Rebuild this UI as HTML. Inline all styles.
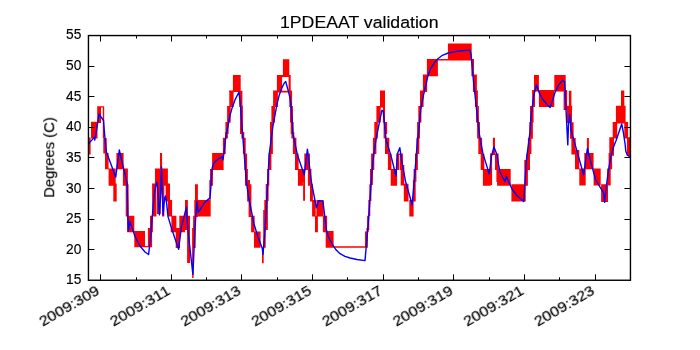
<!DOCTYPE html>
<html><head><meta charset="utf-8"><style>
html,body{margin:0;padding:0;background:#fff;width:700px;height:350px;overflow:hidden}
svg{display:block;font-family:"Liberation Sans",sans-serif}
text{will-change:transform;stroke:#000;stroke-width:0.15px}
</style></head><body>
<svg width="700" height="350" viewBox="0 0 700 350">
<rect x="0" y="0" width="700" height="350" fill="#fff"/>
<defs><clipPath id="c"><rect x="88.0" y="35.0" width="542.0" height="245.0"/></clipPath></defs>
<g clip-path="url(#c)">
<path fill="#ff0000" d="M88.0 137.4H90.6V154.6H88.0ZM91.0 121.8H97.5V138.6H91.0ZM97.2 106.2H101.0V123.0H97.2ZM97.2 106.2H104.2V107.6H97.2ZM102.8 106.2H104.2V138.0H102.8ZM103.3 137.9H106.7V153.6H103.3ZM105.0 153.0H108.6V169.3H105.0ZM108.6 168.6H115.7V185.7H108.6ZM113.3 183.6H116.7V201.4H113.3ZM116.4 152.9H123.6V169.3H116.4ZM122.9 168.6H127.9V185.7H122.9ZM125.7 184.3H128.6V216.4H125.7ZM127.1 215.7H134.3V232.3H127.1ZM134.3 230.9H145.0V247.3H134.3ZM145.0 246.0H152.1V247.3H145.0ZM147.9 228.0H152.1V247.3H147.9ZM150.0 215.7H152.9V232.3H150.0ZM152.1 183.6H156.4V216.4H152.1ZM155.0 168.6H167.9V185.7H155.0ZM160.0 152.9H162.1V169.3H160.0ZM157.0 184.0H160.7V214.0H157.0ZM162.1 184.3H164.3V216.4H162.1ZM165.7 183.6H170.0V201.4H165.7ZM167.9 200.0H172.1V216.4H167.9ZM171.4 215.7H176.4V232.3H171.4ZM170.7 228.0H185.0V232.3H170.7ZM175.7 232.3H180.0V248.0H175.7ZM179.3 215.7H185.0V230.0H179.3ZM180.0 215.7H184.3V232.3H180.0ZM185.0 200.0H187.9V230.0H185.0ZM187.1 215.7H190.0V263.0H187.1ZM192.1 228.0H193.6V278.0H192.1ZM193.1 215.7H195.7V248.0H193.1ZM195.0 184.3H197.9V217.0H195.0ZM194.3 200.0H210.7V216.4H194.3ZM209.3 185.7H210.7V200.0H209.3ZM209.3 180.0H212.9V185.7H209.3ZM210.0 169.1H212.9V182.0H210.0ZM212.1 153.1H223.6V169.9H212.1ZM222.9 137.7H225.7V154.1H222.9ZM225.0 132.0H227.9V138.4H225.0ZM225.4 121.9H228.6V134.0H225.4ZM227.1 106.1H230.7V122.6H227.1ZM229.3 90.4H233.6V107.1H229.3ZM232.9 75.0H240.7V91.4H232.9ZM229.0 90.7H242.4V92.1H229.0ZM239.3 90.7H242.4V107.1H239.3ZM240.0 105.7H242.9V134.0H240.0ZM241.4 132.0H244.3V138.4H241.4ZM242.9 137.7H245.7V154.1H242.9ZM244.3 153.4H247.1V169.9H244.3ZM245.0 169.1H247.9V185.7H245.0ZM245.7 180.0H250.0V185.7H245.7ZM247.1 184.3H251.4V201.4H247.1ZM248.6 200.7H251.4V217.0H248.6ZM251.1 215.7H254.6V232.3H251.1ZM254.0 231.4H260.6V247.7H254.0ZM262.0 247.7H263.7V263.2H262.0ZM263.2 210.0H265.7V247.7H263.2ZM264.3 200.0H267.9V230.0H264.3ZM265.7 184.0H268.6V201.0H265.7ZM267.1 169.0H269.3V185.7H267.1ZM268.6 153.4H271.4V169.9H268.6ZM270.0 137.7H272.9V154.0H270.0ZM270.0 121.9H272.9V138.4H270.0ZM271.4 106.0H275.0V122.6H271.4ZM273.1 90.4H277.9V106.9H273.1ZM273.1 90.7H292.1V92.6H273.1ZM276.9 75.0H282.1V91.4H276.9ZM276.9 75.0H290.7V77.1H276.9ZM288.6 75.0H290.7V91.4H288.6ZM282.9 59.3H289.3V75.7H282.9ZM289.3 90.4H292.1V106.9H289.3ZM290.0 106.0H292.9V122.6H290.0ZM290.7 121.9H293.6V134.0H290.7ZM291.4 132.0H294.3V138.4H291.4ZM292.9 137.7H296.4V154.1H292.9ZM295.0 153.4H298.6V169.9H295.0ZM297.9 169.0H302.9V185.7H297.9ZM303.1 180.0H305.0V200.7H303.1ZM304.3 153.4H310.0V169.9H304.3ZM302.0 169.0H305.0V182.0H302.0ZM307.9 169.0H311.4V185.7H307.9ZM310.0 184.3H312.9V201.4H310.0ZM312.1 200.0H315.7V216.4H312.1ZM316.4 200.0H323.6V216.4H316.4ZM315.0 215.7H317.9V232.3H315.0ZM322.9 215.7H327.1V232.3H322.9ZM325.7 231.1H333.6V247.7H325.7ZM333.6 246.3H366.4V247.7H333.6ZM365.0 231.6H367.9V247.7H365.0ZM366.4 228.0H368.6V232.0H366.4ZM367.1 215.7H369.3V230.0H367.1ZM368.3 200.0H370.3V216.0H368.3ZM369.3 184.3H371.4V201.0H369.3ZM370.0 169.0H372.9V185.0H370.0ZM371.1 153.4H374.3V169.9H371.1ZM372.9 137.7H376.4V154.1H372.9ZM374.3 121.9H377.9V138.4H374.3ZM380.0 90.4H385.0V106.9H380.0ZM376.4 106.1H380.7V122.6H376.4ZM376.4 106.1H385.0V107.6H376.4ZM382.9 106.1H385.0V122.6H382.9ZM383.6 121.9H387.1V134.0H383.6ZM383.6 132.0H385.7V138.4H383.6ZM385.0 137.7H389.3V154.1H385.0ZM387.9 153.4H391.4V169.9H387.9ZM390.7 169.0H397.1V185.7H390.7ZM396.4 153.4H399.3V169.9H396.4ZM400.0 153.4H402.9V169.9H400.0ZM396.4 153.4H402.9V155.0H396.4ZM400.7 165.0H404.3V185.4H400.7ZM403.8 183.8H408.5V201.4H403.8ZM409.3 200.0H413.6V216.4H409.3ZM412.9 180.0H415.7V201.4H412.9ZM413.6 169.0H416.4V182.0H413.6ZM415.0 153.4H417.9V169.9H415.0ZM416.4 137.7H419.3V154.1H416.4ZM417.1 121.9H420.0V138.4H417.1ZM418.3 106.1H421.4V122.6H418.3ZM420.0 90.4H423.6V106.9H420.0ZM422.9 74.6H427.1V91.9H422.9ZM426.9 58.9H437.9V76.3H426.9ZM437.1 58.9H473.6V60.6H437.1ZM447.9 43.4H471.7V60.3H447.9ZM471.4 58.9H474.0V76.3H471.4ZM472.9 74.6H476.9V91.9H472.9ZM475.0 90.4H477.9V106.9H475.0ZM476.0 106.1H478.9V122.6H476.0ZM477.1 121.9H480.0V138.4H477.1ZM478.3 137.7H482.1V154.1H478.3ZM480.7 153.4H484.3V169.9H480.7ZM482.9 169.0H489.3V185.7H482.9ZM482.9 180.0H490.7V185.7H482.9ZM490.0 153.4H492.1V185.0H490.0ZM495.0 153.4H497.9V169.9H495.0ZM490.0 153.4H497.9V155.0H490.0ZM492.9 137.7H495.0V154.1H492.9ZM496.4 153.4H498.6V182.0H496.4ZM488.6 169.0H491.4V182.0H488.6ZM497.1 169.0H510.7V185.7H497.1ZM511.4 184.3H525.7V201.4H511.4ZM524.3 160.0H527.9V185.7H524.3ZM525.0 169.0H527.9V182.0H525.0ZM526.4 153.4H530.0V169.9H526.4ZM527.9 137.7H531.4V154.1H527.9ZM529.3 121.9H532.9V138.7H529.3ZM530.0 106.1H533.6V122.6H530.0ZM534.0 75.0H538.9V91.4H534.0ZM532.1 90.0H535.0V107.1H532.1ZM532.1 90.0H554.3V91.6H532.1ZM538.9 90.0H554.3V107.1H538.9ZM554.3 75.0H565.7V91.4H554.3ZM563.6 90.0H567.1V110.0H563.6ZM568.9 90.7H571.4V110.0H568.9ZM565.7 105.7H572.1V110.0H565.7ZM566.9 106.9H572.0V122.9H566.9ZM570.0 122.3H573.6V138.7H570.0ZM571.4 138.0H575.7V154.4H571.4ZM572.9 150.0H579.3V154.3H572.9ZM575.0 153.6H579.3V169.3H575.0ZM579.3 168.6H585.7V185.4H579.3ZM584.3 152.9H593.6V169.3H584.3ZM586.9 138.0H588.9V158.0H586.9ZM593.6 168.6H600.7V185.4H593.6ZM601.1 184.3H608.0V202.0H601.1ZM607.1 168.6H610.7V185.4H607.1ZM608.6 152.9H612.1V169.3H608.6ZM609.3 137.3H613.5V153.8H609.3ZM610.1 137.3H614.0V155.7H610.1ZM612.7 121.9H617.2V138.6H612.7ZM624.3 121.9H628.1V138.6H624.3ZM612.7 121.9H628.1V123.5H612.7ZM615.9 105.8H625.6V123.1H615.9ZM621.0 90.4H624.3V106.4H621.0ZM626.9 137.3H630.0V155.7H626.9Z"/>
<polyline fill="none" stroke="#0000ff" stroke-width="1.4" stroke-linejoin="round" points="88.6,143.6 94.3,137.4 94.8,140.0 96.9,128.0 99.0,114.0 103.5,120.5 104.5,133.0 106.4,152.1 115.7,177.1 119.3,150.0 127.1,183.6 128.3,231.0 129.8,221.5 131.5,226.0 135.0,236.5 140.0,246.0 145.0,252.0 148.6,254.5 150.5,238.0 152.0,220.0 154.3,194.3 156.0,184.5 157.0,182.3 158.0,192.0 158.6,202.9 159.4,214.9 160.1,205.0 160.6,194.3 161.5,166.9 162.3,194.3 163.2,214.9 164.0,204.0 164.8,197.5 165.5,196.0 166.6,202.9 168.0,216.6 172.1,230.0 178.6,249.4 181.4,227.1 186.4,207.1 187.9,230.0 192.9,274.4 195.0,228.0 196.9,201.4 198.3,212.1 205.0,202.1 210.0,197.9 211.4,180.0 212.1,168.5 213.3,164.0 215.3,161.4 218.7,158.7 222.2,157.0 222.9,159.9 223.9,153.6 225.6,138.7 228.2,125.0 229.9,115.9 232.1,107.9 235.0,99.9 237.3,95.3 239.0,92.1 240.7,107.9 241.9,125.0 244.9,163.0 246.4,182.0 248.6,197.1 254.0,224.0 258.0,237.0 262.3,248.6 263.0,254.5 265.2,228.0 267.9,180.0 269.1,155.0 272.9,126.4 275.0,115.0 276.9,104.7 279.1,95.6 282.0,87.6 284.3,83.0 285.7,81.6 287.7,88.7 290.0,97.9 291.5,109.3 292.9,133.3 297.4,155.0 304.3,174.9 307.4,149.1 311.4,182.0 316.4,207.9 318.6,200.7 322.9,201.1 326.4,230.0 328.5,237.0 332.9,245.1 336.0,249.8 340.0,253.7 345.0,256.3 350.0,258.0 357.0,259.5 365.0,260.6 367.9,228.0 371.4,180.0 372.9,161.4 375.9,140.0 379.3,122.9 381.9,110.3 383.3,111.4 385.0,128.6 386.1,140.0 390.9,155.4 396.0,176.0 397.4,153.7 399.8,147.7 402.0,162.3 405.5,181.2 410.6,199.2 412.1,205.0 414.3,180.0 417.5,140.0 418.6,132.0 420.7,109.7 423.5,95.0 425.9,85.0 427.6,77.0 430.4,69.0 433.9,63.3 437.9,58.7 442.4,55.3 448.1,53.0 454.4,51.7 462.0,50.8 469.9,50.1 471.0,54.1 473.9,85.0 478.3,125.0 479.3,134.0 482.9,153.4 489.3,174.1 491.4,156.3 494.0,147.0 497.1,154.9 498.6,165.0 500.0,172.0 503.0,178.0 505.0,181.4 506.4,176.4 508.6,181.4 512.1,189.3 517.1,195.7 522.9,200.7 523.8,201.4 526.4,160.0 530.0,132.0 531.2,115.0 533.8,95.7 536.4,84.8 539.6,93.8 543.4,100.2 547.3,104.7 550.1,107.5 552.4,100.8 555.0,92.5 558.8,84.8 562.7,80.3 564.6,81.6 567.8,144.9 568.5,125.0 569.7,114.3 570.4,120.0 571.0,130.0 576.5,149.4 578.9,158.0 583.6,174.8 587.4,148.5 591.4,164.3 595.7,180.0 603.6,192.9 604.6,202.3 606.5,185.0 608.3,171.6 610.9,156.1 613.5,147.0 616.0,140.7 619.0,132.0 621.7,124.0 623.3,132.0 625.0,143.3 625.8,151.3 627.4,155.2 630.1,157.0"/>
</g>
<rect x="88.45" y="35.55" width="542.00" height="244.70" fill="none" stroke="#000" stroke-width="1.4"/>
<text x="66.00" y="284.40" font-size="14.60" textLength="15.30" lengthAdjust="spacingAndGlyphs">15</text>
<text x="66.00" y="253.78" font-size="14.60" textLength="15.30" lengthAdjust="spacingAndGlyphs">20</text>
<text x="66.00" y="223.15" font-size="14.60" textLength="15.30" lengthAdjust="spacingAndGlyphs">25</text>
<text x="66.00" y="192.53" font-size="14.60" textLength="15.30" lengthAdjust="spacingAndGlyphs">30</text>
<text x="66.00" y="161.90" font-size="14.60" textLength="15.30" lengthAdjust="spacingAndGlyphs">35</text>
<text x="66.00" y="131.28" font-size="14.60" textLength="15.30" lengthAdjust="spacingAndGlyphs">40</text>
<text x="66.00" y="100.65" font-size="14.60" textLength="15.30" lengthAdjust="spacingAndGlyphs">45</text>
<text x="66.00" y="70.03" font-size="14.60" textLength="15.30" lengthAdjust="spacingAndGlyphs">50</text>
<text x="66.00" y="39.40" font-size="14.60" textLength="15.30" lengthAdjust="spacingAndGlyphs">55</text>
<text transform="translate(100.56,293.50) rotate(-30)" text-anchor="end" font-size="13.90" textLength="66.80" lengthAdjust="spacingAndGlyphs">2009:309</text>
<text transform="translate(171.28,293.50) rotate(-30)" text-anchor="end" font-size="13.90" textLength="66.80" lengthAdjust="spacingAndGlyphs">2009:311</text>
<text transform="translate(242.00,293.50) rotate(-30)" text-anchor="end" font-size="13.90" textLength="66.80" lengthAdjust="spacingAndGlyphs">2009:313</text>
<text transform="translate(312.72,293.50) rotate(-30)" text-anchor="end" font-size="13.90" textLength="66.80" lengthAdjust="spacingAndGlyphs">2009:315</text>
<text transform="translate(383.44,293.50) rotate(-30)" text-anchor="end" font-size="13.90" textLength="66.80" lengthAdjust="spacingAndGlyphs">2009:317</text>
<text transform="translate(454.16,293.50) rotate(-30)" text-anchor="end" font-size="13.90" textLength="66.80" lengthAdjust="spacingAndGlyphs">2009:319</text>
<text transform="translate(524.88,293.50) rotate(-30)" text-anchor="end" font-size="13.90" textLength="66.80" lengthAdjust="spacingAndGlyphs">2009:321</text>
<text transform="translate(595.60,293.50) rotate(-30)" text-anchor="end" font-size="13.90" textLength="66.80" lengthAdjust="spacingAndGlyphs">2009:323</text>
<path d="M88.45 249.50h6.0M630.45 249.50h-6.0M88.45 219.50h6.0M630.45 219.50h-6.0M88.45 188.50h6.0M630.45 188.50h-6.0M88.45 157.50h6.0M630.45 157.50h-6.0M88.45 127.50h6.0M630.45 127.50h-6.0M88.45 96.50h6.0M630.45 96.50h-6.0M88.45 66.50h6.0M630.45 66.50h-6.0M100.50 280.25v-6.0M100.50 35.55v6.0M136.50 280.25v-3.0M136.50 35.55v3.0M171.50 280.25v-6.0M171.50 35.55v6.0M206.50 280.25v-3.0M206.50 35.55v3.0M241.50 280.25v-6.0M241.50 35.55v6.0M277.50 280.25v-3.0M277.50 35.55v3.0M312.50 280.25v-6.0M312.50 35.55v6.0M347.50 280.25v-3.0M347.50 35.55v3.0M383.50 280.25v-6.0M383.50 35.55v6.0M418.50 280.25v-3.0M418.50 35.55v3.0M453.50 280.25v-6.0M453.50 35.55v6.0M489.50 280.25v-3.0M489.50 35.55v3.0M524.50 280.25v-6.0M524.50 35.55v6.0M559.50 280.25v-3.0M559.50 35.55v3.0M595.50 280.25v-6.0M595.50 35.55v6.0" stroke="#000" stroke-width="1.0" fill="none"/>
<text x="280.00" y="27.70" font-size="16.30" textLength="158.50" lengthAdjust="spacingAndGlyphs">1PDEAAT validation</text>
<text transform="translate(54.20,197.80) rotate(-90)" font-size="14.00" textLength="80.60" lengthAdjust="spacingAndGlyphs">Degrees (C)</text>
</svg>
</body></html>
